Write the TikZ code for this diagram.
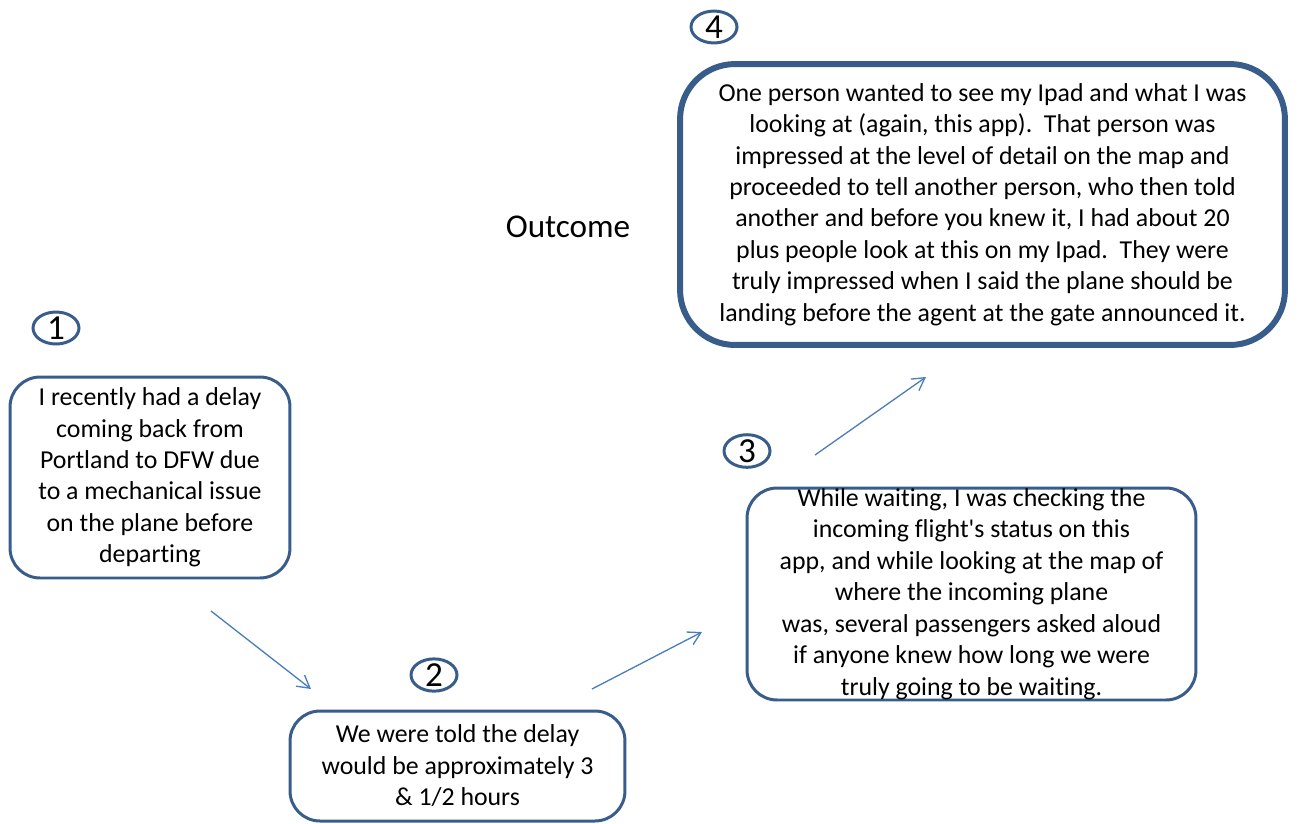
\documentclass[tikz,border=0pt]{standalone}
\usepackage{fontspec}
\setmainfont{Carlito}[Ligatures={NoCommon}]
\usetikzlibrary{shapes.geometric, arrows.meta, positioning}
\definecolor{outlineblue}{RGB}{56, 93, 138}
\definecolor{arrowblue}{RGB}{74, 126, 187}

\begin{document}
\begin{tikzpicture}[
  x=0.02cm, y=-0.02cm,
  storybox/.style={draw=outlineblue, line width=1.7pt, rounded corners=0.6cm, fill=white,
    align=center, inner sep=0pt, font=\fontsize{14.7}{17.9}\selectfont},
  stepnum/.style={draw=outlineblue, line width=1.7pt, ellipse, minimum width=0.92cm,
    minimum height=0.6cm, inner sep=0pt, font=\fontsize{20}{20}\selectfont},
  flow/.style={-{Straight Barb[length=7pt,width=8pt]}, arrowblue, line width=0.75pt}
]
  \useasboundingbox (0,0) rectangle (1298,823);

  % Step 1
  \node[stepnum] (num1) at (56,328) {1};
  \node[storybox, minimum width=5.6cm, minimum height=4.02cm] (delay) at (150,477.5)
    {I recently had a delay\\ coming back from\\ Portland to DFW due\\ to a mechanical issue\\ on the plane before\\ departing};

  % Step 2
  \node[stepnum] (num2) at (434,675) {2};
  \node[storybox, minimum width=6.7cm, minimum height=2.2cm] (told) at (457.5,766)
    {We were told the delay\\ would be approximately 3\\ \& 1/2 hours};

  % Step 3
  \node[stepnum] (num3) at (747,451) {3};
  \node[storybox, minimum width=8.98cm, minimum height=4.24cm] (waiting) at (971.5,594)
    {While waiting, I was checking the\\ incoming flight\textquotesingle s status on this\\ app, and while looking at the map of\\
     where the incoming plane\\ was, several passengers asked aloud\\ if anyone knew how long we were\\ truly going to be waiting.};

  % Step 4 (outcome)
  \node[stepnum] (num4) at (714,27) {4};
  \node[storybox, line width=3.4pt, rounded corners=1.1cm, minimum width=12.1cm, minimum height=5.62cm] (outcome) at (982.5,204.5)
    {One person wanted to see my Ipad and what I was\\ looking at (again, this app).\ \ That person was\\
     impressed at the level of detail on the map and\\ proceeded to tell another person, who then told\\
     another and before you knew it, I had about 20\\ plus people look at this on my Ipad.\ \ They were\\
     truly impressed when I said the plane should be\\ landing before the agent at the gate announced it.};
  \node[font=\fontsize{18.9}{22}\selectfont] (outcomelabel) at (568,227) {Outcome};

  % Arrows between steps
  \coordinate (a1s) at (211,611);
  \coordinate (a1e) at (311,689);
  \coordinate (a2s) at (592,689);
  \coordinate (a2e) at (702,632);
  \coordinate (a3s) at (815,455);
  \coordinate (a3e) at (926,377);
  \draw[flow] (a1s) -- (a1e);
  \draw[flow] (a2s) -- (a2e);
  \draw[flow] (a3s) -- (a3e);
\end{tikzpicture}
\end{document}
